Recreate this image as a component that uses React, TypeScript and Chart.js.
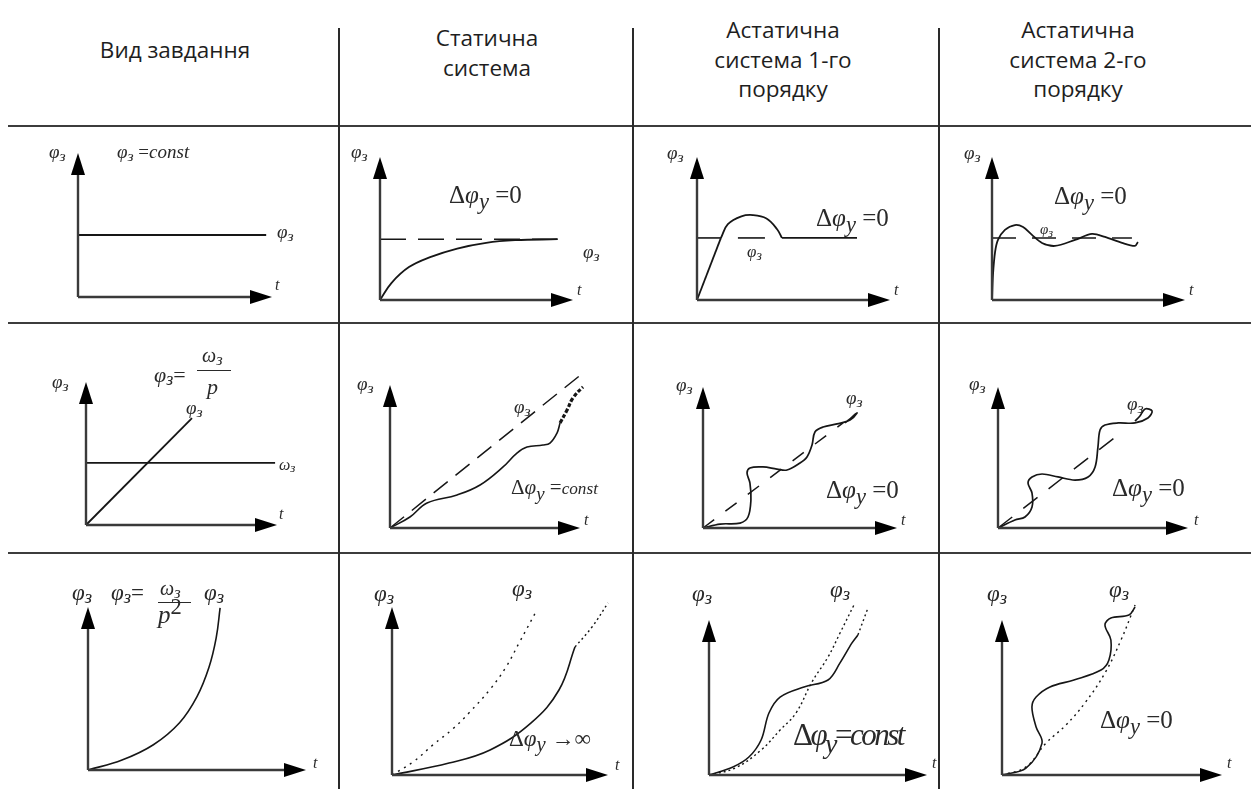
import React, { useEffect, useRef } from "react";
import { Chart, registerables } from "chart.js";

Chart.register(...registerables);

// ---------- DATA (normalized units: axis origin = 0, arrow tips = 10) ----------
// Row 1: set value phi = const
const r1c1Level = [[0, 4.3], [9.7, 4.3]];
const r1c2Ref = [[0, 4.25], [9.2, 4.25]];
const r1c2Resp = [[0, 0], [0.6, 1.2], [1.5, 2.3], [2.6, 3.0], [4.0, 3.6], [5.5, 4.0], [7.0, 4.18], [9.2, 4.25]];
const r1c3Ramp = [[0, 0], [1.24, 4.34]];
const r1c3Arc = [[1.24, 4.34], [1.6, 5.3], [2.3, 5.85], [2.9, 5.94], [3.6, 5.7], [4.15, 4.95], [4.4, 4.34]];
const r1c3Flat = [[4.4, 4.34], [8.29, 4.34]];
const r1c3RefA = [[0, 4.34], [1.24, 4.34]];
const r1c3RefB = [[2.12, 4.34], [3.52, 4.34]];
const r1c4Ref = [[0, 4.34], [7.25, 4.34]];
const r1c4Resp = [[0, 0], [0.05, 1.75], [0.16, 3.36], [0.31, 4.2], [0.67, 4.9], [1.19, 5.24], [1.61, 5.1], [2.07, 4.55], [2.59, 3.99], [3.26, 3.78], [4.3, 4.2], [5.18, 4.62], [5.85, 4.41], [6.74, 3.99], [7.41, 3.78], [7.56, 4.06]];

// Row 2: phi = omega / p (ramp)
const r2c1Ramp = [[0, 0], [5.55, 7.48]];
const r2c1Omega = [[0, 4.34], [9.9, 4.34]];
const r2c2Ref = [[0, 0], [10.16, 10.84]];
const r2c2Resp = [[0, 0], [1.05, 0.77], [1.95, 1.75], [3.53, 2.31], [4.74, 3.01], [5.95, 4.27], [6.68, 5.24], [7.21, 5.66], [8.05, 5.8], [8.42, 5.94], [8.79, 6.64], [8.95, 7.34]];
const r2c2Tail = [[8.95, 7.34], [9.32, 8.25], [9.63, 9.09], [10.16, 9.86], [10.79, 10.49]];
const r2c3Ref = [[0, 0], [7.22, 7.45]];
const r2c3Resp = [[0, 0], [0.88, 0.28], [1.91, 0.35], [2.32, 0.78], [2.47, 1.99], [2.42, 3.19], [2.27, 3.9], [2.42, 4.26], [3.09, 4.33], [3.81, 4.18], [4.33, 4.11], [5.0, 4.61], [5.36, 5.04], [5.62, 5.89], [5.77, 6.81], [6.19, 7.16], [6.91, 7.38], [7.58, 7.66], [7.94, 8.16], [7.68, 7.87], [7.32, 7.45]];
const r2c4Ref = [[0, 0], [6.32, 6.6]];
const r2c4Resp = [[0, 0], [0.89, 0.57], [1.42, 0.78], [1.79, 1.49], [1.79, 2.48], [1.58, 3.19], [1.79, 3.62], [2.32, 3.83], [3.16, 3.62], [4.05, 3.4], [4.74, 3.62], [5.11, 4.33], [5.26, 5.74], [5.37, 6.95], [5.63, 7.3], [6.32, 7.45], [7.21, 7.45], [7.89, 7.8], [8.11, 8.3], [7.74, 8.44], [7.47, 7.94], [7.21, 7.59]];

// Row 3: phi = omega / p^2 (parabola)
const r3c1Curve = [[0, 0], [1.56, 0.61], [3.0, 1.55], [4.2, 2.9], [5.0, 4.5], [5.55, 6.3], [5.88, 8.1], [6.06, 9.94]];
const r3c2Ref = [[0, 0], [1.0, 0.8], [1.9, 1.8], [2.82, 2.75], [3.56, 3.69], [4.54, 5.1], [5.28, 6.43], [5.9, 7.9], [6.71, 9.82]];
const r3c2Resp = [[0, 0], [2.64, 0.71], [4.54, 1.49], [6.44, 3.1], [7.73, 5.06], [8.47, 7.62]];
const r3c2Tail = [[8.47, 7.62], [9.26, 8.81], [10, 10.24]];
const r3c3Ref = [[0, 0], [1.2, 0.45], [2.39, 1.61], [3.26, 2.9], [3.99, 4.0], [4.72, 6.0], [5.46, 7.61], [6.01, 9.16], [6.65, 10.97]];
const r3c3Resp = [[0, 0], [1.1, 0.52], [1.83, 1.16], [2.39, 2.26], [2.75, 4.0], [3.26, 5.03], [4.36, 5.68], [5.46, 6.13], [6.01, 7.23], [6.56, 8.52], [6.83, 9.03]];
const r3c3Tail = [[6.83, 9.03], [7.29, 10.77]];
const r3c4Ref = [[0, 0], [1.09, 0.52], [2.0, 2.06], [2.91, 3.23], [3.77, 4.65], [4.68, 6.58], [5.41, 8.71], [6.05, 10.97]];
const r3c4Resp = [[0, 0], [1.09, 0.45], [1.82, 2.06], [1.55, 3.1], [1.36, 4.39], [1.55, 5.03], [2.18, 5.68], [3.27, 6.13], [4.5, 6.77], [4.86, 7.42], [4.95, 8.71], [4.68, 9.68], [4.95, 10.13], [5.77, 10.32], [6.05, 10.84]];

// Header texts
const headers = [
  { cx: 175, cy: 50, lines: ["Вид завдання"] },
  { cx: 487, cy: 38, lines: ["Статична", "система"] },
  { cx: 783, cy: 30, lines: ["Астатична", "система 1-го", "порядку"] },
  { cx: 1078, cy: 30, lines: ["Астатична", "система 2-го", "порядку"] },
];

// ---------- chart helpers ----------
type Series = { pts: number[][]; dash?: number[]; width?: number; tension?: number; color?: string };
type Spec = { ox: number; oy: number; tx: number; ty: number; series: Series[] };

const arrowAxes = {
  id: "arrowAxes",
  afterDatasetsDraw(chart: any) {
    const { ctx, chartArea } = chart;
    const { left, right, top, bottom } = chartArea;
    ctx.save();
    ctx.setLineDash([]);
    ctx.strokeStyle = "#3a3a3a";
    ctx.lineWidth = 2.4;
    ctx.beginPath();
    ctx.moveTo(left, bottom);
    ctx.lineTo(left, top + 16);
    ctx.moveTo(left, bottom);
    ctx.lineTo(right - 16, bottom);
    ctx.stroke();
    ctx.fillStyle = "#000";
    ctx.beginPath();
    ctx.moveTo(left, top);
    ctx.lineTo(left - 7, top + 22);
    ctx.lineTo(left + 7, top + 22);
    ctx.closePath();
    ctx.fill();
    ctx.beginPath();
    ctx.moveTo(right, bottom);
    ctx.lineTo(right - 22, bottom - 7);
    ctx.lineTo(right - 22, bottom + 7);
    ctx.closePath();
    ctx.fill();
    ctx.restore();
  },
};

const PAD = 40;

function MiniChart({ spec }: { spec: Spec }) {
  const ref = useRef<HTMLCanvasElement>(null);
  useEffect(() => {
    const chart = new Chart(ref.current as HTMLCanvasElement, {
      type: "line",
      data: {
        datasets: spec.series.map((s) => ({
          data: s.pts.map(([x, y]) => ({ x, y })),
          borderColor: s.color ?? "#161616",
          borderWidth: s.width ?? 1.6,
          borderDash: s.dash ?? [],
          tension: s.tension ?? 0.4,
          pointRadius: 0,
          fill: false,
          clip: false,
        })) as any,
      },
      options: {
        animation: false,
        responsive: false,
        maintainAspectRatio: false,
        events: [],
        layout: { padding: PAD },
        plugins: { legend: { display: false }, tooltip: { enabled: false } },
        scales: {
          x: { type: "linear", min: 0, max: 10, display: false },
          y: { type: "linear", min: 0, max: 10, display: false },
        },
      },
      plugins: [arrowAxes],
    });
    return () => chart.destroy();
  }, []);
  return (
    <canvas
      ref={ref}
      width={spec.tx - spec.ox + 2 * PAD}
      height={spec.oy - spec.ty + 2 * PAD}
      style={{ position: "absolute", left: spec.ox - PAD, top: spec.ty - PAD }}
    />
  );
}

const DOT = [2, 3];

const specs: Spec[] = [
  { ox: 78, oy: 297, tx: 272, ty: 153, series: [{ pts: r1c1Level, tension: 0, width: 2 }] },
  { ox: 380, oy: 300, tx: 573, ty: 157, series: [{ pts: r1c2Ref, tension: 0, dash: [26, 12], width: 1.6 }, { pts: r1c2Resp, width: 1.8 }] },
  {
    ox: 697, oy: 300, tx: 890, ty: 157,
    series: [
      { pts: r1c3Ramp, tension: 0, width: 1.8 },
      { pts: r1c3Arc, tension: 0.4, width: 1.8 },
      { pts: r1c3Flat, tension: 0, width: 1.8 },
      { pts: r1c3RefA, tension: 0, width: 1.6 },
      { pts: r1c3RefB, tension: 0, width: 1.6 },
    ],
  },
  { ox: 992, oy: 300, tx: 1185, ty: 157, series: [{ pts: r1c4Ref, tension: 0, dash: [24, 16], width: 1.5 }, { pts: r1c4Resp, tension: 0.3, width: 1.8 }] },
  { ox: 86, oy: 525, tx: 277, ty: 382, series: [{ pts: r2c1Ramp, tension: 0, width: 1.8 }, { pts: r2c1Omega, tension: 0, width: 1.8 }] },
  {
    ox: 390, oy: 528, tx: 580, ty: 385,
    series: [
      { pts: r2c2Ref, tension: 0, dash: [18, 10], width: 1.5 },
      { pts: r2c2Resp, width: 1.6 },
      { pts: r2c2Tail, width: 3.2, dash: [4, 2] },
    ],
  },
  { ox: 703, oy: 528, tx: 897, ty: 387, series: [{ pts: r2c3Ref, tension: 0, dash: [14, 14], width: 1.5 }, { pts: r2c3Resp, width: 1.7, tension: 0.35 }] },
  { ox: 998, oy: 528, tx: 1188, ty: 387, series: [{ pts: r2c4Ref, tension: 0, dash: [18, 14], width: 1.5 }, { pts: r2c4Resp, width: 1.7, tension: 0.35 }] },
  { ox: 88, oy: 770, tx: 306, ty: 607, series: [{ pts: r3c1Curve, width: 1.6 }] },
  {
    ox: 392, oy: 775, tx: 608, ty: 607,
    series: [
      { pts: r3c2Ref, dash: [2, 5], width: 1.4 },
      { pts: r3c2Resp, width: 1.6 },
      { pts: r3c2Tail, dash: DOT, width: 1.4 },
    ],
  },
  {
    ox: 709, oy: 775, tx: 927, ty: 620,
    series: [
      { pts: r3c3Ref, dash: DOT, width: 1.4 },
      { pts: r3c3Resp, width: 1.6, tension: 0.35 },
      { pts: r3c3Tail, dash: DOT, width: 1.4 },
    ],
  },
  {
    ox: 1002, oy: 775, tx: 1222, ty: 620,
    series: [
      { pts: r3c4Ref, dash: [2, 4], width: 1.4 },
      { pts: r3c4Resp, width: 1.6, tension: 0.35 },
    ],
  },
];

// ---------- text helpers ----------
const SERIF = '"Liberation Serif", "DejaVu Serif", serif';
const INK = "#2a2a2a";

function At({ x, y, s, children, extra }: { x: number; y: number; s: number; children: any; extra?: any }) {
  return (
    <div
      style={{
        position: "absolute",
        left: x,
        top: y - 0.84 * s,
        fontSize: s,
        lineHeight: 1,
        fontFamily: SERIF,
        whiteSpace: "nowrap",
        color: INK,
        ...(extra || {}),
      }}
    >
      {children}
    </div>
  );
}

function Phi() {
  return (
    <span>
      <i>φ</i>
      <i style={{ fontSize: "0.82em", position: "relative", top: "0.2em" }}>з</i>
    </span>
  );
}

function Omega() {
  return (
    <span>
      <i>ω</i>
      <i style={{ fontSize: "0.82em", position: "relative", top: "0.2em" }}>з</i>
    </span>
  );
}

function DPhiY() {
  return (
    <span>
      Δ<i>φ</i>
      <i style={{ fontSize: "0.9em", position: "relative", top: "0.28em" }}>y</i>
    </span>
  );
}

function T({ x, y }: { x: number; y: number }) {
  return (
    <At x={x} y={y} s={16}>
      <i>t</i>
    </At>
  );
}

function HLine({ x1, x2, y, w = 2 }: { x1: number; x2: number; y: number; w?: number }) {
  return <div style={{ position: "absolute", left: x1, top: y - w / 2, width: x2 - x1, height: w, background: "#3c3c3c" }} />;
}
function VLine({ x, y1, y2, w = 1.6 }: { x: number; y1: number; y2: number; w?: number }) {
  return <div style={{ position: "absolute", left: x - w / 2, top: y1, width: w, height: y2 - y1, background: "#2a2a2a" }} />;
}

export default function App() {
  useEffect(() => {
    document.body.style.margin = "0";
    document.body.style.background = "#fff";
  }, []);
  return (
    <div style={{ position: "absolute", left: 0, top: 0, width: 1251, height: 789, background: "#fff", overflow: "hidden" }}>
      {/* table grid */}
      <HLine x1={8} x2={1251} y={126} w={2.2} />
      <HLine x1={8} x2={1251} y={323} w={2.2} />
      <HLine x1={8} x2={1251} y={553} w={2.2} />
      <VLine x={339} y1={28} y2={789} />
      <VLine x={633} y1={28} y2={789} />
      <VLine x={939} y1={28} y2={789} />

      {/* headers */}
      {headers.map((h, i) => (
        <div
          key={i}
          style={{
            position: "absolute",
            left: h.cx - 150,
            top: h.cy - 15,
            width: 300,
            textAlign: "center",
            fontFamily: '"Open Sans", "Noto Sans", sans-serif',
            fontSize: 22.5,
            lineHeight: "29.5px",
            color: "#1e1e1e",
          }}
        >
          {h.lines.map((l, j) => (
            <div key={j}>{l}</div>
          ))}
        </div>
      ))}

      {specs.map((s, i) => (
        <MiniChart key={i} spec={s} />
      ))}

      {/* ---- Row 1 labels ---- */}
      <At x={49} y={158} s={19}><Phi /></At>
      <At x={117} y={158} s={19}><Phi /> =<i>const</i></At>
      <At x={277} y={238} s={19}><Phi /></At>
      <T x={275} y={290} />

      <At x={351} y={158} s={19}><Phi /></At>
      <At x={449} y={203} s={25}><DPhiY /> =0</At>
      <At x={583} y={258} s={19}><Phi /></At>
      <T x={577} y={295} />

      <At x={667} y={159} s={19}><Phi /></At>
      <At x={816} y={226} s={25}><DPhiY /> =0</At>
      <At x={747} y={257} s={17}><Phi /></At>
      <T x={894} y={295} />

      <At x={964} y={159} s={19}><Phi /></At>
      <At x={1054} y={204} s={25}><DPhiY /> =0</At>
      <At x={1040} y={235} s={15}><Phi /></At>
      <T x={1189} y={295} />

      {/* ---- Row 2 labels ---- */}
      <At x={52} y={388} s={19}><Phi /></At>
      <At x={154} y={382} s={22}><Phi />=</At>
      <At x={202} y={362} s={20}><Omega /></At>
      <div style={{ position: "absolute", left: 197, top: 369.5, width: 34, height: 1.3, background: INK }} />
      <At x={207} y={394} s={22}><i>p</i></At>
      <At x={186} y={414} s={19}><Phi /></At>
      <At x={279} y={470} s={16}><Omega /></At>
      <T x={279} y={519} />

      <At x={357} y={390} s={19}><Phi /></At>
      <At x={514} y={413} s={19}><Phi /></At>
      <At x={511} y={495} s={21}><DPhiY /> =<i style={{ fontSize: "0.82em" }}>const</i></At>
      <T x={584} y={525} />

      <At x={676} y={391} s={19}><Phi /></At>
      <At x={846} y={404} s={19}><Phi /></At>
      <At x={826} y={498} s={25}><DPhiY /> =0</At>
      <T x={901} y={525} />

      <At x={969} y={390} s={19}><Phi /></At>
      <At x={1127} y={410} s={19}><Phi /></At>
      <At x={1112} y={496} s={25}><DPhiY /> =0</At>
      <T x={1194} y={525} />

      {/* ---- Row 3 labels ---- */}
      <At x={72} y={600} s={23}><Phi /></At>
      <At x={111} y={600} s={23}><Phi />=</At>
      <At x={160} y={595} s={20}><Omega /></At>
      <div style={{ position: "absolute", left: 158, top: 602, width: 33, height: 1.3, background: INK }} />
      <At x={158} y={623} s={25}><i>p</i><span style={{ fontSize: "0.9em", position: "relative", top: "-0.42em" }}>2</span></At>
      <At x={204} y={600} s={23}><Phi /></At>
      <T x={313} y={768} />

      <At x={374} y={601} s={23}><Phi /></At>
      <At x={512} y={596} s={23}><Phi /></At>
      <At x={509} y={746} s={23}><DPhiY /> →∞</At>
      <T x={615} y={770} />

      <At x={692} y={601} s={23}><Phi /></At>
      <At x={830} y={597} s={23}><Phi /></At>
      <At x={793} y={745} s={31} extra={{ letterSpacing: "-2.5px" }}><DPhiY />=<i>const</i></At>
      <T x={932} y={768} />

      <At x={987} y={601} s={23}><Phi /></At>
      <At x={1109} y={597} s={23}><Phi /></At>
      <At x={1100} y={728} s={25}><DPhiY /> =0</At>
      <T x={1227} y={768} />
    </div>
  );
}
